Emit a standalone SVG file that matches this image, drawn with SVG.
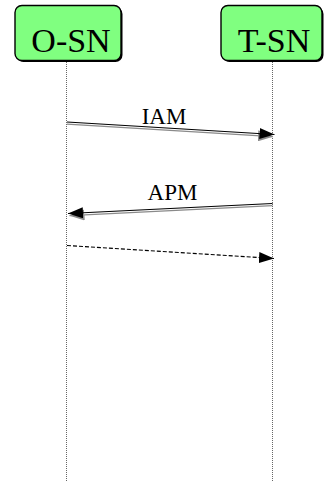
<svg xmlns="http://www.w3.org/2000/svg" width="325" height="483" viewBox="0 0 325 483">
<style>
.box{fill:#80ff80;stroke:#000;stroke-width:1.4}
.name{font-family:"Liberation Serif","Times New Roman",serif;font-size:34px;fill:#000;text-anchor:middle}
.lbl{font-family:"Liberation Serif","Times New Roman",serif;font-size:23px;fill:#000;text-anchor:middle}
.life{stroke:#666;stroke-width:1;stroke-dasharray:1,1;fill:none}
.msgB{stroke:#000;stroke-width:1.2;fill:none}
.msgG{stroke:#8a8a8a;stroke-width:1.3;fill:none}
.dash{stroke:#000;stroke-width:1.1;stroke-dasharray:4,2;fill:none}
</style>
<defs>
<marker id="ahB" viewBox="0 0 15 11" refX="15" refY="5.5" markerWidth="15" markerHeight="11" markerUnits="userSpaceOnUse" orient="auto">
<path d="M0,0 L15,5.5 L0,11 Z" fill="#000"/>
</marker>
<marker id="ahG" viewBox="0 0 15 11" refX="15" refY="5.5" markerWidth="15" markerHeight="11" markerUnits="userSpaceOnUse" orient="auto">
<path d="M0,0 L15,5.5 L0,11 Z" fill="#8a8a8a"/>
</marker>
</defs>
<g id="lifelines">
<line class="life" x1="66.5" y1="62" x2="66.5" y2="482"/>
<line class="life" x1="272.5" y1="62" x2="272.5" y2="482"/>
</g>
<g id="node-osn">
<rect x="16.5" y="7" width="106" height="55" rx="7" ry="7" fill="#000"/>
<rect class="box" x="15" y="5.5" width="106" height="55" rx="7" ry="7"/>
<text class="name" x="71" y="52">O-SN</text>
</g>
<g id="node-tsn">
<rect x="222.5" y="7" width="101" height="55" rx="7" ry="7" fill="#000"/>
<rect class="box" x="221" y="5.5" width="101" height="55" rx="7" ry="7"/>
<text class="name" x="274" y="52">T-SN</text>
</g>
<g id="connectors">
<g id="msg-iam">
<line class="msgG" x1="67" y1="124.2" x2="273" y2="136.7" marker-end="url(#ahG)"/>
<line class="msgB" x1="67" y1="122" x2="274.5" y2="134.5" marker-end="url(#ahB)"/>
<text class="lbl" x="164" y="124">IAM</text>
</g>
<g id="msg-apm">
<line class="msgG" x1="272.5" y1="205.7" x2="69.5" y2="215.7" marker-end="url(#ahG)"/>
<line class="msgB" x1="272.5" y1="203.5" x2="68" y2="213.5" marker-end="url(#ahB)"/>
<text class="lbl" x="172.5" y="200">APM</text>
</g>
<g id="msg-dash">
<line class="dash" x1="67" y1="245.5" x2="274" y2="258.5" marker-end="url(#ahB)"/>
</g>
</g>
</svg>
